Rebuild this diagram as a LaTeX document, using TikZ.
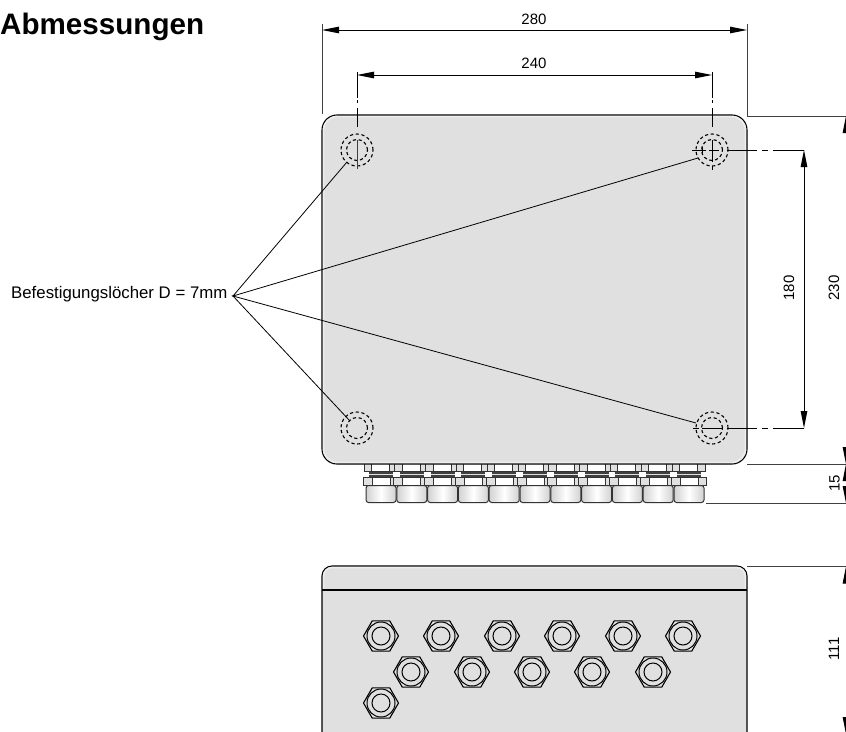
\documentclass[tikz,border=0pt]{standalone}
\usepackage{fontspec}
\setmainfont{Liberation Sans}
\usetikzlibrary{arrows.meta,shapes.geometric}
\definecolor{boxgray}{HTML}{E0E0E0}
\definecolor{glowgray}{HTML}{EDEDED}
\tikzset{
	dimline/.style={line width=0.9pt, {Triangle[length=17pt,width=6.5pt]}-{Triangle[length=17pt,width=6.5pt]}},
	extline/.style={line width=0.9pt, black!75},
	centerline/.style={line width=0.9pt, dash pattern=on 26pt off 2pt on 3pt off 5pt on 21pt off 0pt},
	sideline/.style={line width=0.9pt, dash pattern=on 30pt off 5pt on 6pt off 5pt on 31pt off 0pt},
	leader/.style={line width=0.8pt},
	dimlabel/.style={inner sep=0pt, font=\fontsize{15}{17}\selectfont},
	holering/.style={circle, draw, inner sep=0pt, line width=1.1pt, dash pattern=on 3.2pt off 2.6pt},
	hexnut/.style={regular polygon, regular polygon sides=6, draw, fill=boxgray, inner sep=0pt, minimum size=35pt, line width=1.1pt},
	nutring/.style={circle, draw, inner sep=0pt, line width=1pt},
	glandline/.style={line width=0.9pt, draw=black!80}
}
\begin{document}
\begin{tikzpicture}[x=1pt, y=-1pt]
	\useasboundingbox (0,0) rectangle (846,731);
	\clip (0,0) rectangle (846,731);

	% cable glands, they sit behind the housing
	\foreach \i in {0,...,10} {
		\pgfmathsetmacro{\gx}{364+30.8*\i}
		\draw[glandline, fill=white] (\gx,463) rectangle ++(33,8.5);
		\draw[glandline, fill=boxgray] (\gx,463) rectangle ++(7.5,8.5);
		\draw[glandline, fill=boxgray] (\gx+25.5,463) rectangle ++(7.5,8.5);
		\fill[black!75] (\gx+5,472) rectangle ++(24,4.5);
		\fill[boxgray] (\gx+5,473.5) rectangle ++(24,1.2);
		\draw[glandline, fill=white] (\gx-1,477) rectangle ++(35,8.5);
		\draw[glandline, fill=boxgray] (\gx-1,477) rectangle ++(9,8.5);
		\draw[glandline, fill=boxgray] (\gx+26,477) rectangle ++(8,8.5);
		\draw[glandline, line width=1pt, left color=black!18, right color=black!18, middle color=white, rounded corners=2.5pt] (\gx+2,485.5) -- (\gx+2,502.5) -- (\gx+32,502.5) -- (\gx+32,485.5) -- cycle;
	}

	% housing, top view
	\node[rectangle, draw, fill=boxgray, rounded corners=15pt, inner sep=0pt, line width=1.1pt, minimum width=425pt, minimum height=349pt] (housing) at (534.5,289.5) {};
	\draw[glowgray, line width=1.6pt, rounded corners=13.5pt] (323.6,116.6) rectangle (745.4,462.4);

	% housing, front view
	\draw[fill=boxgray, line width=1.1pt, rounded corners=10pt] (322,740) -- (322,566) -- (747,566) -- (747,740);
	\draw[glowgray, line width=1.6pt, rounded corners=8.5pt] (323.6,589) -- (323.6,567.6) -- (745.4,567.6) -- (745.4,589);
	\draw[line width=1.1pt] (322,590) -- (747,590);

	% mounting holes
	\foreach \name/\hx/\hy in {tl/357/150, tr/712/150, bl/357/428, br/712/428} {
		\node[holering, minimum size=32pt] (hole\name) at (\hx,\hy) {};
		\node[holering, minimum size=21pt] (core\name) at (\hx,\hy) {};
	}

	% centre lines
	\coordinate (cltl) at (357,72);
	\coordinate (cltlb) at (357,127);
	\coordinate (cltr) at (712,72);
	\coordinate (cltrb) at (712,127);
	\coordinate (arrtr) at (804,150);
	\coordinate (arrbr) at (804,428);
	\draw[centerline] (cltl) -- (cltlb);
	\draw[centerline] (cltr) -- (cltrb);
	\draw[line width=0.9pt, black!75] (357,140) -- (357,169);
	\draw[line width=0.9pt] (712,140) -- (712,162);
	\draw[line width=0.9pt] (712,166) -- (712,170);
	\draw[line width=0.9pt] (692,150) -- (706,150);
	\draw[line width=0.9pt] (702,147) -- (702,153);
	\draw[line width=0.9pt] (709,150) -- (719,150);
	\draw[line width=0.9pt] (693,428) -- (699,428);
	\draw[line width=0.9pt] (702,428) -- (722,428);
	\draw[sideline] (727,150) -- (arrtr);
	\draw[sideline] (727,428) -- (arrbr);

	% extension lines
	\coordinate (ext280l) at (322,24);
	\coordinate (ext280r) at (747,24);
	\draw[extline] (ext280l) -- (322,114);
	\draw[extline] (ext280r) -- (747,116) -- (846,116);
	\draw[extline] (747,464) -- (846,464);
	\draw[extline] (706,503) -- (846,503);
	\draw[extline] (747,566.5) -- (846,566.5);

	% dimensions
	\draw[dimline] (322,30) -- (747,30);
	\draw[dimline] (357,75) -- (712,75);
	\draw[dimline] (arrtr) -- (arrbr);
	\draw[dimline] (846,116) -- (846,464);
	\draw[dimline] (846,464) -- (846,503);
	\draw[dimline] (846,566.5) -- (846,734);

	\node[dimlabel] (lab280) at (534,19) {280};
	\node[dimlabel] (lab240) at (534,63.5) {240};
	\node[dimlabel, rotate=90] (lab180) at (789,288) {180};
	\node[dimlabel, rotate=90] (lab230) at (834,288) {230};
	\node[dimlabel, rotate=90] (lab15) at (834.5,483) {15};
	\node[dimlabel, rotate=90] (lab111) at (834,649) {111};

	% leaders to the holes
	\node[inner sep=0pt, anchor=west, font=\fontsize{16.8}{19}\selectfont] (befest) at (11,294.5) {Befestigungslöcher D = 7mm};
	\coordinate (meet) at (233,296);
	\coordinate (endtl) at (347,162);
	\coordinate (endtr) at (698,158);
	\coordinate (endbl) at (350,421);
	\coordinate (endbr) at (696,423);
	\draw[leader] (endtl) -- (meet) -- (endtr);
	\draw[leader] (endbl) -- (meet) -- (endbr);

	\node[inner sep=0pt, anchor=base west, font=\fontsize{29.6}{32}\bfseries\selectfont] (title) at (0,34) {Abmessungen};

	% glands, front view
	\foreach \px/\py [count=\k] in {381/636, 441/636, 502/636, 562/636, 623/636, 683/636, 411/672, 472/672, 532/672, 592/672, 653/672, 381/703} {
		\node[hexnut] (nut\k) at (\px,\py) {};
		\node[nutring, minimum size=28pt] (ringa\k) at (\px,\py) {};
		\node[nutring, minimum size=18pt] (ringb\k) at (\px,\py) {};
	}
\end{tikzpicture}
\end{document}
